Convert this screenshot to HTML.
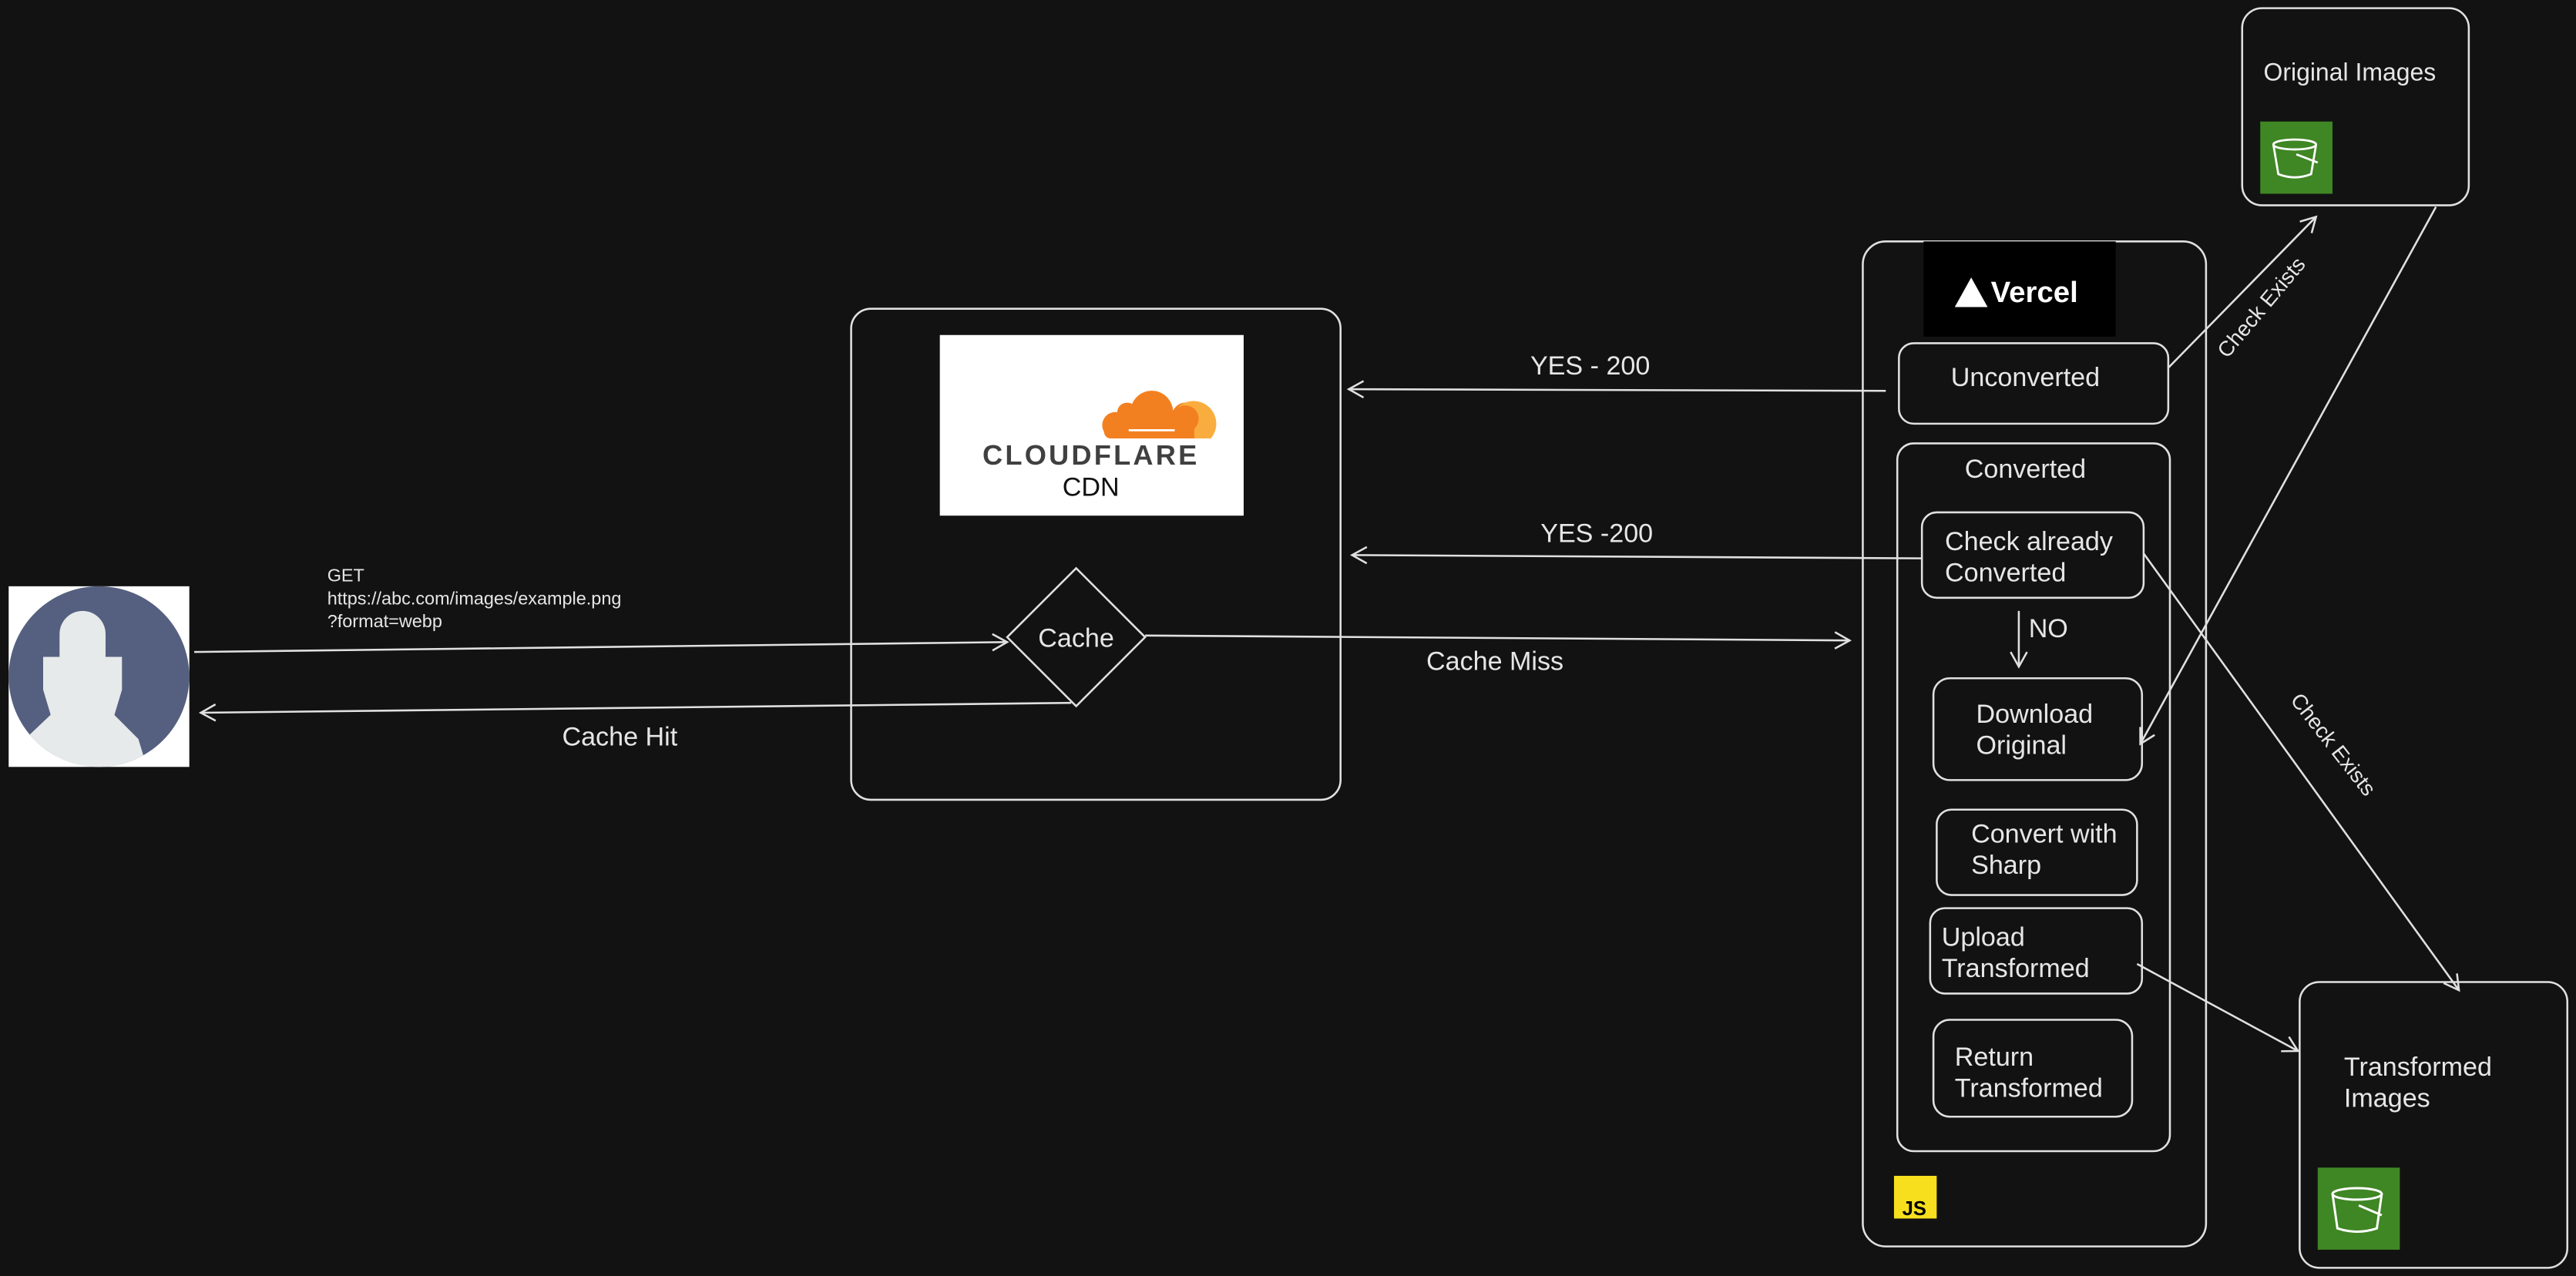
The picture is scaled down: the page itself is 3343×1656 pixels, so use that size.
<!DOCTYPE html>
<html><head><meta charset="utf-8"><style>
html,body{margin:0;padding:0;background:#121212;}
svg{display:block;}
text{font-family:"Liberation Sans",sans-serif;fill:#e6e6e6;}
</style></head><body>
<svg width="3343" height="1656" viewBox="0 0 1568 777" xmlns="http://www.w3.org/2000/svg">
<defs>
<marker id="a" markerWidth="12" markerHeight="12" refX="10" refY="6" orient="auto" markerUnits="userSpaceOnUse">
<path d="M1,1 L10,6 L1,11" fill="none" stroke="#e0e0e0" stroke-width="1.2"/>
</marker>
</defs>
<rect width="1568" height="777" fill="#121212"/>
<g fill="none" stroke="#e0e0e0" stroke-width="1.2">
<!-- person -->
</g>
<rect x="5" y="357" width="110" height="110" fill="#fff"/>
<ellipse cx="60" cy="412" rx="55" ry="55" fill="#556080"/>
<clipPath id="pc"><ellipse cx="60" cy="412" rx="55" ry="55"/></clipPath>
<g clip-path="url(#pc)" fill="#e6eaea">
<rect x="36" y="372" width="28" height="80" rx="14"/>
<path d="M26,400 h48 v20 l-6,20 l-3,40 h-30 l-3,-40 l-6,-20z"/>
<path d="M15,450 L34,432 L66,432 L84,450 L90,470 L10,470z"/>
</g>
<text x="199" y="354" font-size="11">GET</text>
<text x="199" y="368" font-size="11">https://abc.com/images/example.png</text>
<text x="199" y="382" font-size="11">?format=webp</text>
<g fill="none" stroke="#e0e0e0" stroke-width="1.2">
<line x1="118" y1="397" x2="613" y2="391" marker-end="url(#a)"/>
<line x1="652" y1="428" x2="122" y2="434" marker-end="url(#a)"/>
<rect x="518" y="188" width="298" height="299" rx="12"/>
<path d="M655,346 L697,388 L655,430 L613,388Z"/>
<line x1="697" y1="387" x2="1126" y2="390" marker-end="url(#a)"/>
<line x1="1148" y1="238" x2="821" y2="237" marker-end="url(#a)"/>
<line x1="1170" y1="340" x2="823" y2="338" marker-end="url(#a)"/>
<rect x="1134" y="147" width="209" height="612" rx="14"/>
<rect x="1156" y="209" width="164" height="49" rx="9"/>
<rect x="1155" y="270" width="166" height="431" rx="10"/>
<rect x="1170" y="312" width="135" height="52" rx="9"/>
<line x1="1229" y1="372" x2="1229" y2="406" marker-end="url(#a)"/>
<rect x="1177" y="413" width="127" height="62" rx="10"/>
<rect x="1179" y="493" width="122" height="52" rx="9"/>
<rect x="1175" y="553" width="129" height="52" rx="9"/>
<rect x="1177" y="621" width="121" height="59" rx="10"/>
<rect x="1365" y="5" width="138" height="120" rx="12"/>
<rect x="1400" y="598" width="163" height="174" rx="12"/>
<line x1="1320" y1="224" x2="1410" y2="132" marker-end="url(#a)"/>
<line x1="1483" y1="126" x2="1303" y2="453" marker-end="url(#a)"/>
<line x1="1305" y1="337" x2="1497" y2="603" marker-end="url(#a)"/>
<line x1="1301" y1="587" x2="1399" y2="640" marker-end="url(#a)"/>
</g>
<text x="342" y="454" font-size="16">Cache Hit</text>
<text x="655" y="394" font-size="16" text-anchor="middle">Cache</text>
<text x="910" y="408" font-size="16" text-anchor="middle">Cache Miss</text>
<text x="968" y="228" font-size="16" text-anchor="middle">YES - 200</text>
<text x="972" y="330" font-size="16" text-anchor="middle">YES -200</text>
<!-- cloudflare -->
<rect x="572" y="204" width="185" height="110" fill="#fff"/>
<g>
<path d="M676,267 h56 a6,6 0 0 0 -2,-9 a8,8 0 0 0 -16,-8 a13,13 0 0 0 -25,-4 a6,6 0 0 0 -9,5 a8,8 0 0 0 -8,12 a4,4 0 0 0 4,4z" fill="#f38020"/>
<path d="M727,267 h10 a13,13 0 0 0 -21,-18 a7,7 0 0 1 11,12z" fill="#faad3f"/>
<line x1="687" y1="262" x2="715" y2="262" stroke="#fff" stroke-width="1.3"/>
</g>
<text x="664" y="283" font-size="17" font-weight="bold" text-anchor="middle" style="fill:#404041;letter-spacing:1.5px">CLOUDFLARE</text>
<text x="664" y="302" font-size="16" text-anchor="middle" style="fill:#111">CDN</text>
<!-- vercel -->
<rect x="1171" y="147" width="117" height="58" fill="#000"/>
<path d="M1190,187 L1200,169 L1210,187Z" fill="#fff"/>
<text x="1212" y="184" font-size="18" font-weight="bold" style="fill:#fff">Vercel</text>
<text x="1233" y="235" font-size="16" text-anchor="middle">Unconverted</text>
<text x="1233" y="291" font-size="16" text-anchor="middle">Converted</text>
<text x="1184" y="335" font-size="16">Check already</text>
<text x="1184" y="354" font-size="16">Converted</text>
<text x="1235" y="388" font-size="16">NO</text>
<text x="1203" y="440" font-size="16">Download</text>
<text x="1203" y="459" font-size="16">Original</text>
<text x="1200" y="513" font-size="16">Convert with</text>
<text x="1200" y="532" font-size="16">Sharp</text>
<text x="1182" y="576" font-size="16">Upload</text>
<text x="1182" y="595" font-size="16">Transformed</text>
<text x="1190" y="649" font-size="16">Return</text>
<text x="1190" y="668" font-size="16">Transformed</text>
<rect x="1153" y="716" width="26" height="26" fill="#f7df1e"/>
<text x="1158" y="740" font-size="12" font-weight="bold" style="fill:#000">JS</text>
<text x="1378" y="49" font-size="15">Original Images</text>
<text x="1427" y="655" font-size="16">Transformed</text>
<text x="1427" y="674" font-size="16">Images</text>
<text transform="translate(1380,190) rotate(-50)" font-size="13" text-anchor="middle">Check Exists</text>
<text transform="translate(1417,456) rotate(52)" font-size="13" text-anchor="middle">Check Exists</text>
<!-- buckets -->
<g>
<rect x="1376" y="74" width="44" height="44" fill="#3f8624"/>
<g fill="none" stroke="#fff" stroke-width="1.3">
<ellipse cx="1397" cy="88" rx="13" ry="3"/>
<path d="M1384,88 L1387,106 Q1397,110 1407,106 L1410,88"/>
<path d="M1398,94 L1411,99"/>
</g>
<rect x="1411" y="711" width="50" height="50" fill="#3f8624"/>
<g fill="none" stroke="#fff" stroke-width="1.4">
<ellipse cx="1435" cy="727" rx="15" ry="3.5"/>
<path d="M1420,727 L1423,748 Q1435,752 1447,748 L1450,727"/>
<path d="M1436,734 L1450,740"/>
</g>
</g>
</svg>
</body></html>
